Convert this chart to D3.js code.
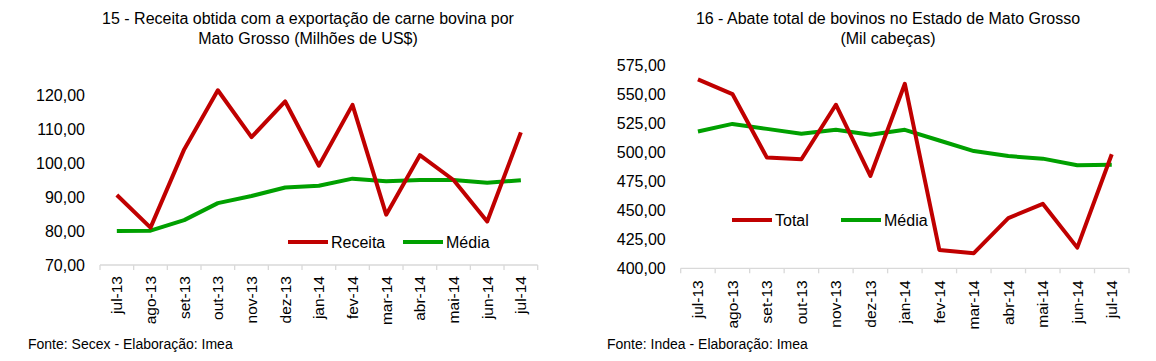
<!DOCTYPE html>
<html>
<head>
<meta charset="utf-8">
<script src="https://cdn.jsdelivr.net/npm/d3@7/dist/d3.min.js"></script>
<style>
  html, body { margin: 0; padding: 0; background: #ffffff; }
  svg text { font-family: "Liberation Sans", Arial, sans-serif; fill: #000; }
</style>
</head>
<body>
<svg id="chart" width="1156" height="361"></svg>
<script>
// ---------- data ----------
const months = ["jul-13","ago-13","set-13","out-13","nov-13","dez-13","jan-14","fev-14","mar-14","abr-14","mai-14","jun-14","jul-14"];

const receita      = [90.6, 81.0, 104.0, 121.4, 107.6, 118.1, 99.2, 117.1, 84.8, 102.3, 95.0, 82.8, 109.0];
const receitaMedia = [80.0, 80.1, 83.2, 88.2, 90.3, 92.8, 93.3, 95.4, 94.6, 95.0, 95.0, 94.2, 94.9];
const receitaTicks = [70, 80, 90, 100, 110, 120];

const abate      = [562.7, 550.0, 495.3, 493.9, 540.8, 479.5, 558.8, 415.8, 413.0, 443.2, 455.5, 417.8, 498.2];
const abateMedia = [517.7, 524.3, 520.0, 515.8, 519.2, 514.9, 519.2, 510.0, 500.9, 496.6, 494.4, 488.7, 489.2];
const abateTicks = [400, 425, 450, 475, 500, 525, 550, 575];

const RED = "#c00000", GREEN = "#00a000", AXIS = "#d9d9d9";
const fmt = v => d3.format(".2f")(v).replace(".", ",");

const svg = d3.select("#chart");

function drawChart(cfg) {
  const g = svg.append("g");
  const x = d3.scaleBand().domain(months).range([cfg.x0, cfg.x1]);
  const y = d3.scaleLinear().domain(cfg.domain).range([cfg.yBase, cfg.yTopPx]);

  // titles
  cfg.title.forEach((t, i) => {
    g.append("text").attr("x", cfg.titleX).attr("y", 24 + i * 19.5)
      .attr("text-anchor", "middle").attr("font-size", 16).text(t);
  });

  // y tick labels (no axis line)
  g.selectAll(".yl").data(cfg.ticks).enter().append("text")
    .attr("x", cfg.x0 - cfg.yLabelGap).attr("y", d => y(d)).attr("dy", "0.35em")
    .attr("text-anchor", "end").attr("font-size", 16).text(fmt);

  // x axis
  const xa = g.append("g").attr("transform", `translate(0,${cfg.yBase})`);
  xa.append("line").attr("x1", cfg.x0).attr("x2", cfg.x1).attr("stroke", AXIS).attr("stroke-width", 1.3);
  const bounds = months.map(m => x(m)).concat([cfg.x1]);
  xa.selectAll(".tk").data(bounds).enter().append("line")
    .attr("x1", d => d).attr("x2", d => d).attr("y1", 0).attr("y2", 5)
    .attr("stroke", AXIS).attr("stroke-width", 1.3);
  xa.selectAll(".xl").data(months).enter().append("text")
    .attr("transform", d => `translate(${x(d) + x.bandwidth() / 2},${cfg.labelGap}) rotate(-90)`)
    .attr("dy", "0.35em").attr("text-anchor", "end").attr("font-size", 15.5).text(d => d);

  const line = d3.line().x((d, i) => x(months[i]) + x.bandwidth() / 2).y(d => y(d));
  g.append("path").datum(cfg.media).attr("d", line).attr("fill", "none")
    .attr("stroke", GREEN).attr("stroke-width", 4).attr("stroke-linejoin", "round");
  g.append("path").datum(cfg.main).attr("d", line).attr("fill", "none")
    .attr("stroke", RED).attr("stroke-width", 4).attr("stroke-linejoin", "round");

  // legend
  const lg = g.append("g");
  cfg.legend.forEach(it => {
    lg.append("line").attr("x1", it.x).attr("x2", it.x + 40).attr("y1", cfg.legendY).attr("y2", cfg.legendY)
      .attr("stroke", it.color).attr("stroke-width", 4);
    lg.append("text").attr("x", it.x + 43).attr("y", cfg.legendY).attr("dy", "0.35em")
      .attr("font-size", 16).text(it.name);
  });

  g.append("text").attr("x", cfg.footX).attr("y", 349).attr("font-size", 14).text(cfg.foot);
}

drawChart({
  x0: 100, x1: 537.7, yBase: 265, yTopPx: 95, domain: [70, 120],
  ticks: receitaTicks, yLabelGap: 15, labelGap: 11,
  main: receita, media: receitaMedia,
  title: ["15 - Receita obtida com a exportação de carne bovina por", "Mato Grosso (Milhões de US$)"],
  titleX: 308,
  legendY: 242, legend: [{x: 288, color: RED, name: "Receita"}, {x: 403, color: GREEN, name: "Média"}],
  foot: "Fonte: Secex - Elaboração: Imea", footX: 28
});

drawChart({
  x0: 680.7, x1: 1129, yBase: 268.3, yTopPx: 65, domain: [400, 575],
  ticks: abateTicks, yLabelGap: 15, labelGap: 12,
  main: abate, media: abateMedia,
  title: ["16 - Abate total de bovinos no Estado de Mato Grosso", "(Mil cabeças)"],
  titleX: 888,
  legendY: 220, legend: [{x: 732, color: RED, name: "Total"}, {x: 841, color: GREEN, name: "Média"}],
  foot: "Fonte: Indea - Elaboração: Imea", footX: 607
});
</script>
</body>
</html>
